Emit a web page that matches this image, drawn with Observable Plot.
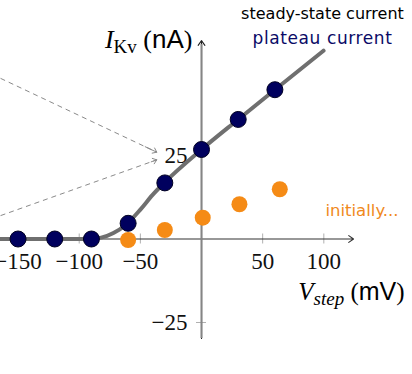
<!DOCTYPE html>
<html><head><meta charset="utf-8">
<script src="https://cdn.jsdelivr.net/npm/d3@7"></script>
<script src="https://cdn.jsdelivr.net/npm/@observablehq/plot@0.6"></script>
<style>body{margin:0;background:#fff}svg{display:block}</style>
</head><body>
<script>
// ---- data ----
const plateauV = [-150, -120, -90, -60, -30, 0, 30, 60];
const plateauI = [0, 0, 0, 4.7, 16.8, 26.8, 35.8, 44.7];
const initialV = [-60, -30, 1, 31, 64];
const initialI = [-0.3, 2.7, 6.4, 10.4, 14.9];
const steadyV = [-170, -90, -82, -72, -62, -50, -40, -30, 0, 30, 60, 99.8];
const steadyI = [0, 0, 0.4, 1.8, 4.2, 8.8, 13.2, 17, 26.8, 35.8, 44.7, 56.4];
const xTicks = [-150, -100, -50, 50, 100];
const yTicks = [25, -25];
const pointerFromV = [-164.3, -164.3];
const pointerFromI = [48.1, 7.0];
const pointerToV = [-36.6, -36.6];
const pointerToI = [26.0, 23.7];
const steadyLabel = "steady-state current";
const plateauLabel = "plateau current";
const initialLabel = "initially...";
const yLabelParts = ["I", "Kv", " (", "nA", ")"];
const xLabelParts = ["V", "step", " (", "mV", ")"];

const xMin = -164.3, xMax = 124.3, yMin = -29.8, yMax = 59.4;

const line = steadyV.map((v, i) => ({v, i: steadyI[i]}));
const plateau = plateauV.map((v, i) => ({v, i: plateauI[i]}));
const initial = initialV.map((v, i) => ({v, i: initialI[i]}));
const pointers = pointerFromV.map((v, k) => ({x1: v, y1: pointerFromI[k], x2: pointerToV[k], y2: pointerToI[k]}));
const fmt = d => d < 0 ? "\u2212" + Math.abs(d) : String(d);

const navy = "#00005e", orange = "#f58b16";
const yLabelText = yLabelParts.join(""), xLabelText = xLabelParts.join("");

const svg = Plot.plot({
  width: 412, height: 374, margin: 0,
  x: {domain: [-164.35, 172.5], axis: null},
  y: {domain: [-40.57, 71.41], axis: null},
  marks: [
    // dashed pointers
    Plot.link(pointers, {x1: "x1", y1: "y1", x2: "x2", y2: "y2", stroke: "#8a8a8a", strokeWidth: 1, strokeDasharray: "5,4"}),
    Plot.arrow(pointers, {x1: "x1", y1: "y1", x2: "x2", y2: "y2", stroke: "#8a8a8a", strokeWidth: 1, headLength: 7, headAngle: 75, insetStart: 160}),
    // tick marks
    Plot.ruleX(xTicks, {x: d => d, y1: -1.5, y2: 1.5, stroke: "#b0b0b0", strokeWidth: 1}),
    Plot.ruleY(yTicks, {y: d => d, x1: -4.1, x2: 4.1, stroke: "#b0b0b0", strokeWidth: 1}),
    // axes
    Plot.arrow([0], {x1: xMin, x2: xMax, y1: 0, y2: 0, stroke: "#333", strokeWidth: 1.1, headLength: 8, headAngle: 70}),
    Plot.arrow([0], {x1: 0, x2: 0, y1: yMin, y2: yMax, stroke: "#222", strokeWidth: 1.1, headLength: 8, headAngle: 70}),
    Plot.ruleX([0], {x: 0, y1: yMin, y2: yMax - 1.2, stroke: "#858585", strokeWidth: 2}),
    // tick labels
    Plot.text(xTicks, {x: d => d, y: 0, text: fmt, dy: 22.5, fontSize: 23, fontFamily: "Liberation Serif", fill: "#111"}),
    Plot.text(yTicks, {x: 0, y: d => d, text: fmt, dx: -14, dy: 0.5, textAnchor: "end", fontSize: 23, fontFamily: "Liberation Serif", fill: "#111"}),
    // steady-state curve
    Plot.line(line, {x: "v", y: "i", curve: "monotone-x", stroke: "#6f6f6f", strokeWidth: 4}),
    // data points
    Plot.dot(initial, {x: "v", y: "i", r: 8, fill: orange}),
    Plot.dot(plateau, {x: "v", y: "i", r: 8, fill: navy, stroke: "#000022", strokeWidth: 1}),
    // annotation labels
    Plot.text([steadyLabel], {x: 98.9, y: 65.9, text: d => d, lineAnchor: "bottom", fontSize: 16, fontFamily: "DejaVu Sans", fill: "#000"}),
    Plot.text([plateauLabel], {x: 98.9, y: 58.4, text: d => d, lineAnchor: "bottom", fontSize: 17, fontFamily: "DejaVu Sans", fill: "#0a0a66"}),
    Plot.text([initialLabel], {x: 131.2, y: 7.0, text: d => d, lineAnchor: "bottom", fontSize: 16.5, fontFamily: "DejaVu Sans", fill: "#f0891c"}),
    // axis labels
    Plot.text([yLabelText], {x: -7.4, y: 57.2, text: d => d, textAnchor: "end", lineAnchor: "bottom", fontSize: 26, fill: "#000"}),
    Plot.text([xLabelText], {x: 166, y: -18.3, text: d => d, textAnchor: "end", lineAnchor: "bottom", fontSize: 25, fill: "#000"})
  ]
});
document.body.appendChild(svg);

// rich (math-like) axis labels
const NS = "http://www.w3.org/2000/svg";
function rich(full, parts, base, sub, italicSub) {
  const t = Array.from(svg.querySelectorAll("text")).find(e => e.textContent === full);
  if (!t) return;
  while (t.firstChild) t.removeChild(t.firstChild);
  const specs = [
    {family: "Liberation Serif", style: "italic", size: base, dy: 0},
    {family: "Liberation Serif", style: italicSub ? "italic" : "normal", size: sub, dy: 5},
    {family: "Liberation Serif", style: "normal", size: base, dy: -5},
    {family: "Liberation Sans", style: "normal", size: base, dy: 0},
    {family: "Liberation Serif", style: "normal", size: base, dy: 0}
  ];
  parts.forEach((p, k) => {
    const s = document.createElementNS(NS, "tspan");
    s.textContent = p;
    s.setAttribute("style", `font-family:'${specs[k].family}';font-style:${specs[k].style};font-size:${specs[k].size}px`);
    if (specs[k].dy) s.setAttribute("dy", specs[k].dy);
    t.appendChild(s);
  });
}
rich(yLabelText, yLabelParts, 26, 19, false);
rich(xLabelText, xLabelParts, 25, 19, true);
const pl = Array.from(svg.querySelectorAll("text")).find(e => e.textContent === plateauLabel);
if (pl) pl.setAttribute("letter-spacing", "0.6");
</script>
</body></html>
